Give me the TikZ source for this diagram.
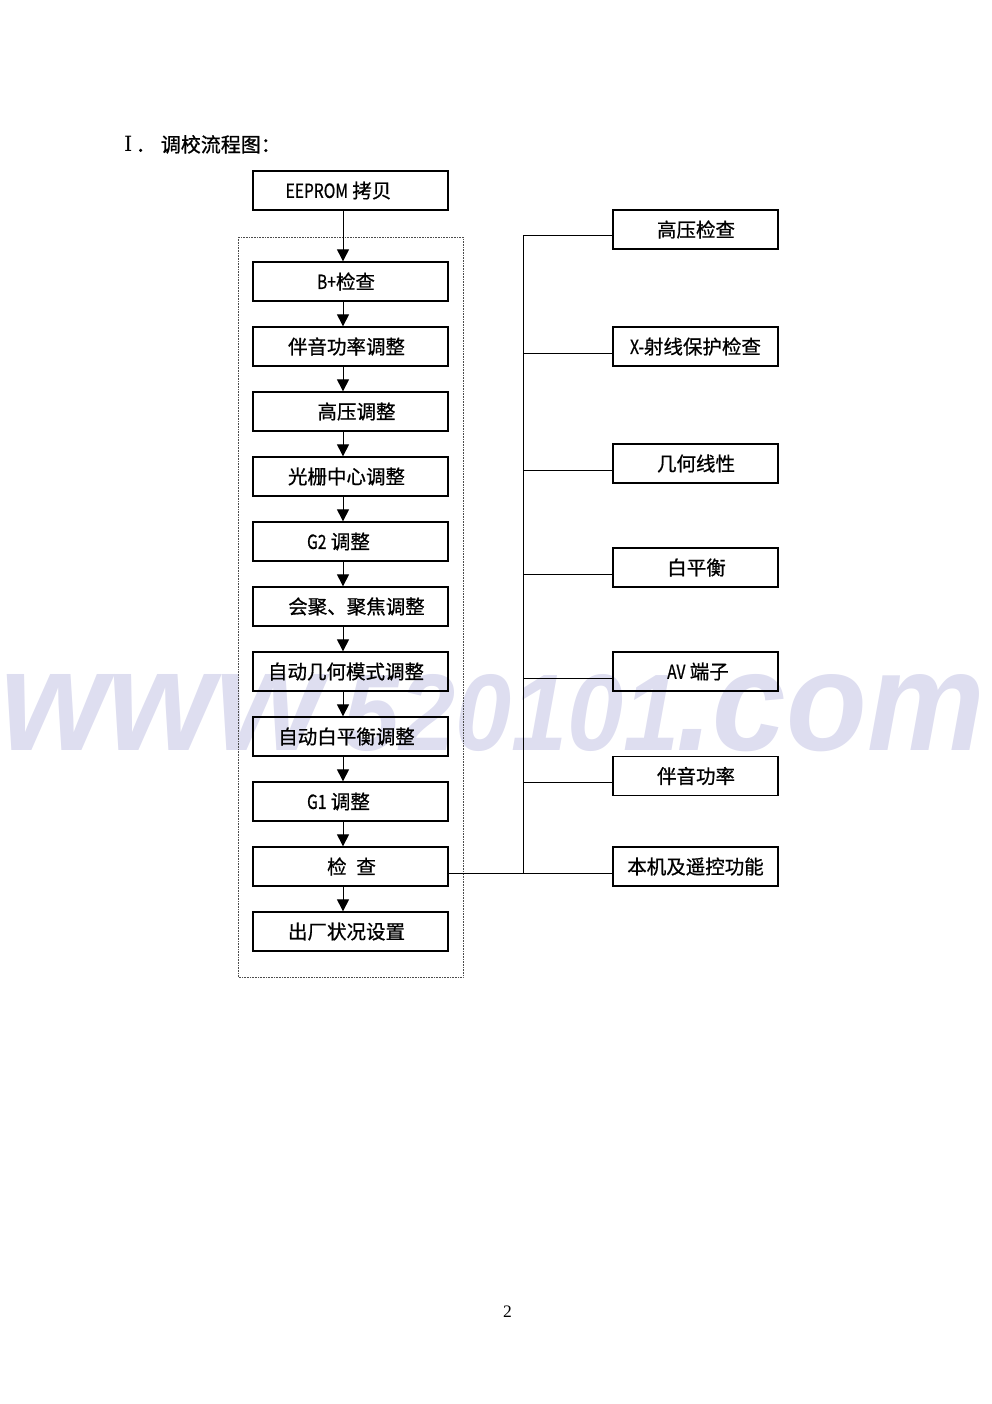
\documentclass[tikz,border=0pt]{standalone}
\usepackage{fontspec}
\setmainfont{Noto Sans CJK SC}
\newfontfamily\cjk{Noto Sans CJK SC}[FakeBold=0.8]
\newfontfamily\romnum{DejaVu Serif}
\newfontfamily\serifnum{Liberation Serif}
\newfontfamily\wmfont{Liberation Sans}
\usetikzlibrary{arrows.meta}
\newcommand{\nr}[1]{\scalebox{0.8}[1]{#1}}
\definecolor{wmcol}{RGB}{222,222,240}
\tikzset{
  box/.style={draw=black, line width=1.3pt, minimum width=195pt, minimum height=39pt, inner sep=0pt},
  rbox/.style={draw=black, line width=1.3pt, minimum width=165pt, minimum height=39pt, inner sep=0pt},
  txt/.style={inner sep=0pt, font=\cjk\fontsize{19.5}{22}\selectfont},
  arr/.style={line width=1pt, -{Triangle[width=12pt,length=12pt]}},
  conn/.style={line width=1pt},
  frame/.style={draw=black!70, line width=0.6pt, densely dotted},
  wm/.style={inner sep=0pt, anchor=base west, text=wmcol, font=\wmfont\bfseries\itshape}
}
\begin{document}
\begin{tikzpicture}[x=1pt,y=-1pt]
\useasboundingbox (0,0) rectangle (992,1404);
% watermark
\node[wm] (wm1) at (0,750) {\resizebox{322pt}{76pt}{www}};
\node[wm] (wm2) at (343,750) {\resizebox{336pt}{76pt}{520101}};
\node[wm] (wm3) at (676,750) {\resizebox{308pt}{76pt}{.com}};
% title
\node[inner sep=0pt, anchor=base west, font=\cjk\fontsize{20}{22}\selectfont] (title) at (124,152) {{\romnum\fontsize{21}{22}\selectfont Ⅰ}\,．\hspace{5pt}调校流程图：};
% dotted frame
\draw[frame] (238,237) rectangle (463,977);
\coordinate (ax) at (343,0);
\coordinate (tx) at (523,0);
% left boxes
\node[box] (b1) at (350.5,190.5) {};
\node[box] (b2) at (350.5,281.5) {};
\node[box] (b3) at (350.5,346.5) {};
\node[box] (b4) at (350.5,411.5) {};
\node[box] (b5) at (350.5,476.5) {};
\node[box] (b6) at (350.5,541.5) {};
\node[box] (b7) at (350.5,606.5) {};
\node[box] (b8) at (350.5,671.5) {};
\node[box] (b9) at (350.5,736.5) {};
\node[box] (b10) at (350.5,801.5) {};
\node[box] (b11) at (350.5,866.5) {};
\node[box] (b12) at (350.5,931.5) {};
\node[txt] (t1) at (338.5,190.5) {\nr{EEPROM} 拷贝};
\node[txt] (t2) at (346,281.5) {\nr{B+}检查};
\node[txt] (t3) at (346.5,346.5) {伴音功率调整};
\node[txt] (t4) at (356.5,411.5) {高压调整};
\node[txt] (t5) at (346.5,476.5) {光栅中心调整};
\node[txt] (t6) at (338.5,541.5) {\nr{G2} 调整};
\node[txt] (t7) at (356.5,606.5) {会聚、聚焦调整};
\node[txt] (t8) at (346,671.5) {自动几何模式调整};
\node[txt] (t9) at (346.5,736.5) {自动白平衡调整};
\node[txt] (t10) at (338.5,801.5) {\nr{G1} 调整};
\node[txt] (t11) at (351.5,866.5) {检\hspace{0.5em}查};
\node[txt] (t12) at (346.5,931.5) {出厂状况设置};
% arrows
\foreach \a/\b in {b1/b2,b2/b3,b3/b4,b4/b5,b5/b6,b6/b7,b7/b8,b8/b9,b9/b10,b10/b11,b11/b12}
  \draw[arr] (\a.south -| ax) -- (\b.north -| ax);
% right boxes
\node[rbox] (r1) at (695.5,229.5) {};
\node[rbox] (r2) at (695.5,346.5) {};
\node[rbox] (r3) at (695.5,463.5) {};
\node[rbox] (r4) at (695.5,567.5) {};
\node[rbox] (r5) at (695.5,671.5) {};
\node[rbox] (r6) at (695.5,776) {};
\node[rbox] (r7) at (695.5,866.5) {};
\node[txt] (s1) at (696,229.5) {高压检查};
\node[txt] (s2) at (695.5,346.5) {\nr{X-}射线保护检查};
\node[txt] (s3) at (696,463.5) {几何线性};
\node[txt] (s4) at (696.5,567.5) {白平衡};
\node[txt] (s5) at (698,671.5) {\nr{AV} 端子};
\node[txt] (s6) at (696,776) {伴音功率};
\node[txt] (s7) at (695.5,866.5) {本机及遥控功能};
% connectors
\foreach \r in {r1,r2,r3,r4,r5,r6,r7}
  \coordinate (j\r) at ([yshift=-6.5pt]\r.west);
\draw[conn] (jr1 -| tx) -- (jr7 -| tx);
\foreach \r in {r1,r2,r3,r4,r5,r6,r7}
  \draw[conn] (tx |- j\r) -- (j\r);
\draw[conn] (b11.east |- jr7) -- (jr7);
% page number
\node[inner sep=0pt, anchor=base, font=\serifnum\fontsize{17.5}{20}\selectfont] (pg) at (507.5,1317) {2};
\end{tikzpicture}
\end{document}
